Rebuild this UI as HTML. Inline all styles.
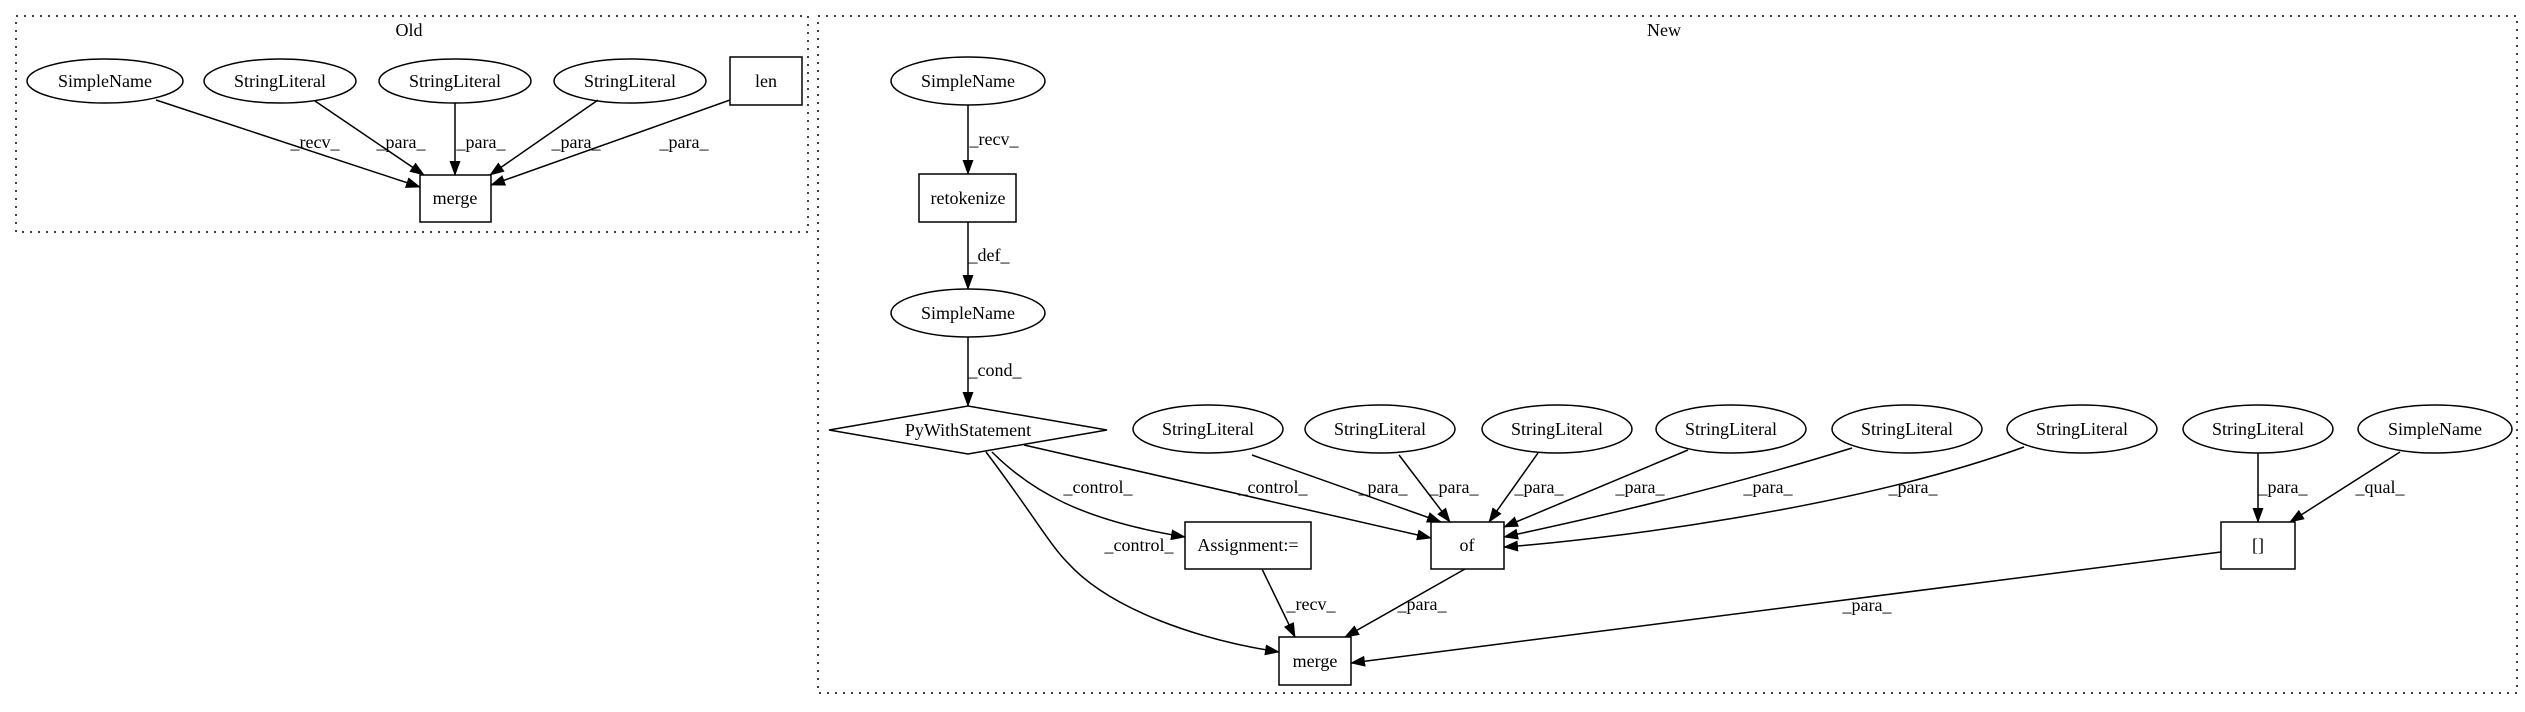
<!DOCTYPE html>
<html><head><meta charset="utf-8"><style>
html,body{margin:0;padding:0;background:#fff;}
svg{display:block;}
text{font-family:"Liberation Serif",serif;font-size:18px;fill:#000;}
</style></head><body>
<svg width="2525" height="712" viewBox="0 0 2525 712" xmlns="http://www.w3.org/2000/svg">
<defs><marker id="a" markerWidth="15" markerHeight="12" refX="14" refY="6" orient="auto" markerUnits="userSpaceOnUse"><path d="M0,0.5 L15,6 L0,11.5 Z" fill="#000"/></marker></defs>
<g fill="none" stroke="#000" stroke-width="1.5" stroke-dasharray="2,6">
<rect x="16" y="16" width="792" height="216"/>
<rect x="818" y="16" width="1699" height="677"/>
</g>
<text x="409" y="36" text-anchor="middle">Old</text>
<text x="1664" y="36" text-anchor="middle">New</text>
<g fill="#fff" stroke="#000" stroke-width="1.5">
<ellipse cx="105" cy="81" rx="78" ry="22"/>
<ellipse cx="280" cy="81" rx="76" ry="22"/>
<ellipse cx="455" cy="81" rx="76" ry="22"/>
<ellipse cx="630" cy="81" rx="76" ry="22"/>
<rect x="730" y="57" width="72" height="48"/>
<rect x="420" y="175" width="71" height="47"/>
<ellipse cx="968" cy="81" rx="77" ry="24"/>
<rect x="919" y="174" width="97" height="48"/>
<ellipse cx="968" cy="313" rx="77" ry="24"/>
<polygon points="829,430 968,406 1107,430 968,454"/>
<ellipse cx="1208" cy="429" rx="75" ry="24"/>
<ellipse cx="1380" cy="429" rx="75" ry="24"/>
<ellipse cx="1557" cy="429" rx="75" ry="24"/>
<ellipse cx="1731" cy="429" rx="75" ry="24"/>
<ellipse cx="1907" cy="429" rx="75" ry="24"/>
<ellipse cx="2082" cy="429" rx="75" ry="24"/>
<ellipse cx="2258" cy="429" rx="75" ry="24"/>
<ellipse cx="2435" cy="429" rx="77" ry="24"/>
<rect x="1431" y="522" width="73" height="47"/>
<rect x="1185" y="522" width="126" height="47"/>
<rect x="2221" y="522" width="74" height="47"/>
<rect x="1279" y="637" width="72" height="48"/>
</g>
<g text-anchor="middle">
<text x="105" y="87">SimpleName</text>
<text x="280" y="87">StringLiteral</text>
<text x="455" y="87">StringLiteral</text>
<text x="630" y="87">StringLiteral</text>
<text x="766" y="87">len</text>
<text x="455" y="204">merge</text>
<text x="968" y="87">SimpleName</text>
<text x="968" y="204">retokenize</text>
<text x="968" y="319">SimpleName</text>
<text x="968" y="436">PyWithStatement</text>
<text x="1208" y="435">StringLiteral</text>
<text x="1380" y="435">StringLiteral</text>
<text x="1557" y="435">StringLiteral</text>
<text x="1731" y="435">StringLiteral</text>
<text x="1907" y="435">StringLiteral</text>
<text x="2082" y="435">StringLiteral</text>
<text x="2258" y="435">StringLiteral</text>
<text x="2435" y="435">SimpleName</text>
<text x="1467" y="551">of</text>
<text x="1248" y="551">Assignment:=</text>
<text x="2258" y="551">[]</text>
<text x="1315" y="667">merge</text>
</g>
<g fill="none" stroke="#000" stroke-width="1.5" marker-end="url(#a)">
<path d="M156,100 L420,187"/>
<path d="M315,101 L424,175"/>
<path d="M455,103 L455,175"/>
<path d="M598,100 L490,175"/>
<path d="M730,100 L491,185"/>
<path d="M968,105 L968,174"/>
<path d="M968,222 L968,289"/>
<path d="M968,337 L968,406"/>
<path d="M992,452 C1030,490 1080,520 1185,537"/>
<path d="M1024,445 L1431,538"/>
<path d="M986,452 C1030,510 1050,545 1067,562 C1110,610 1200,640 1279,652"/>
<path d="M1252,455 L1441,522"/>
<path d="M1399,455 L1450,522"/>
<path d="M1538,453 L1489,522"/>
<path d="M1688,450 L1504,527"/>
<path d="M1852,448 C1700,495 1560,525 1504,537"/>
<path d="M2024,447 C1850,510 1600,540 1504,547"/>
<path d="M2258,453 L2258,522"/>
<path d="M2400,452 L2290,522"/>
<path d="M1465,569 L1345,637"/>
<path d="M1262,569 L1295,637"/>
<path d="M2221,552 L1351,663"/>
</g>
<g text-anchor="middle">
<text x="315" y="148">_recv_</text>
<text x="401" y="148">_para_</text>
<text x="481" y="148">_para_</text>
<text x="576" y="148">_para_</text>
<text x="684" y="148">_para_</text>
<text x="994" y="145">_recv_</text>
<text x="989" y="261">_def_</text>
<text x="995" y="376">_cond_</text>
<text x="1098" y="493">_control_</text>
<text x="1273" y="493">_control_</text>
<text x="1139" y="551">_control_</text>
<text x="1311" y="610">_recv_</text>
<text x="1422" y="610">_para_</text>
<text x="1383" y="493">_para_</text>
<text x="1454" y="493">_para_</text>
<text x="1539" y="493">_para_</text>
<text x="1640" y="493">_para_</text>
<text x="1768" y="493">_para_</text>
<text x="1913" y="493">_para_</text>
<text x="2283" y="493">_para_</text>
<text x="2380" y="493">_qual_</text>
<text x="1867" y="611">_para_</text>
</g>
</svg>
</body></html>
